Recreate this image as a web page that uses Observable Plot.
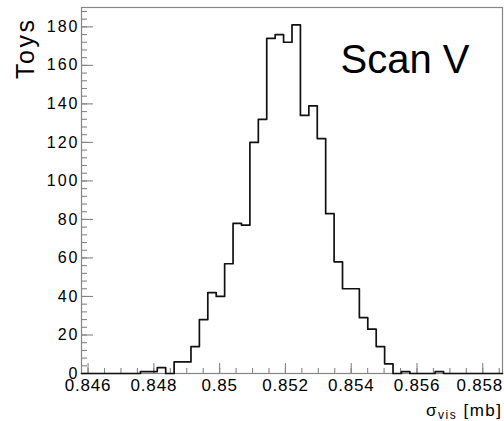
<!DOCTYPE html>
<html>
<head>
<meta charset="utf-8">
<script src="https://cdn.jsdelivr.net/npm/d3@7"></script>
<script src="https://cdn.jsdelivr.net/npm/@observablehq/plot@0.6"></script>
<style>
html, body { margin: 0; padding: 0; background: #fff; }
#chart svg { display: block; }
</style>
</head>
<body>
<div id="chart"></div>
<script>
// Histogram range and bin contents (50 bins)
const binLow = 0.8458;
const binHigh = 0.8586;
const toyCounts = [0,0,0,0,0,0,0,1,1,3,0,6,6,14,28,42,40,57,78,77,120,132,174,176,172,181,134,139,122,83,58,44,44,29,23,14,5,0,1,0,0,0,1,0,0,0,0,0,0,0];
const yTop = 190.05;

// Axis ticks and labels
const xTickValues = [0.846, 0.848, 0.850, 0.852, 0.854, 0.856, 0.858];
const xTickLabels = ["0.846", "0.848", "0.85", "0.852", "0.854", "0.856", "0.858"];
const xMinorStep = 0.0005;
const yTickValues = [0, 20, 40, 60, 80, 100, 120, 140, 160, 180];
const yTickLabels = ["0", "20", "40", "60", "80", "100", "120", "140", "160", "180"];
const yMinorStep = 4;

// Texts
const yTitle = "Toys";
const panelLabel = "Scan V";
const xTitle = "σvis [mb]";

const nb = toyCounts.length;
const bw = (binHigh - binLow) / nb;
const steps = toyCounts.map((c, i) => ({x: binLow + i * bw, y: c}));
steps.push({x: binHigh, y: toyCounts[nb - 1]});

const xMinor = d3.range(0, 26).map(k => xTickValues[0] + k * xMinorStep).filter(v => v <= binHigh);
const yMinor = d3.range(0, 48).map(k => k * yMinorStep).filter(v => v <= yTop);

const axisColor = "#858585";
const font = "'Liberation Sans', Arial, Helvetica, sans-serif";

const plot = Plot.plot({
  width: 504,
  height: 421,
  marginLeft: 81,
  marginRight: 2,
  marginTop: 7,
  marginBottom: 48,
  style: {fontFamily: font, background: "#fff", color: "#000", overflow: "visible"},
  x: {domain: [binLow, binHigh], label: null},
  y: {domain: [0, yTop], label: null},
  marks: [
    Plot.frame({stroke: axisColor, strokeWidth: 1.2}),
    // minor / major ticks (inward)
    Plot.axisY(yMinor, {tickSize: -6, fill: "none", stroke: axisColor, strokeWidth: 1.1, label: null}),
    Plot.axisY(yTickValues, {tickSize: -12, fill: "none", stroke: axisColor, strokeWidth: 1.1, label: null}),
    Plot.axisX(xMinor, {tickSize: -5, fill: "none", stroke: axisColor, strokeWidth: 1.1, label: null}),
    Plot.axisX(xTickValues, {tickSize: -10, fill: "none", stroke: axisColor, strokeWidth: 1.1, label: null}),
    // tick labels
    Plot.axisY(yTickValues, {
      tickSize: 0, tickPadding: 2, fontSize: 16, fill: "#000", label: null,
      tickFormat: d => yTickLabels[yTickValues.indexOf(d)]
    }),
    Plot.axisX(xTickValues, {
      tickSize: 0, tickPadding: 5, fontSize: 17, fill: "#000", label: null,
      tickFormat: d => xTickLabels[xTickValues.indexOf(d)]
    }),
    // histogram outline
    Plot.line(steps, {x: "x", y: "y", curve: "step-after", stroke: "#111", strokeWidth: 1.7}),
    // titles
    Plot.text([yTitle], {frameAnchor: "top-left", dx: -48, dy: 10, rotate: -90, textAnchor: "end", lineAnchor: "bottom", fontSize: 25, fill: "#000"}),
    Plot.text([panelLabel], {frameAnchor: "top-left", dx: 259, dy: 65, textAnchor: "start", lineAnchor: "bottom", fontSize: 40, fill: "#000"}),
    Plot.text([xTitle], {frameAnchor: "bottom-right", dy: 42, textAnchor: "end", lineAnchor: "bottom", fontSize: 17, fill: "#000"})
  ]
});

document.getElementById("chart").appendChild(plot);

const svg = d3.select(plot);
svg.selectAll("g[aria-label^='y-axis tick label']").attr("letter-spacing", "2px");
svg.selectAll("g[aria-label^='x-axis tick label']").attr("letter-spacing", "0.8px");
svg.selectAll("text").each(function() {
  const t = d3.select(this);
  const s = this.textContent;
  if (s === yTitle) t.attr("letter-spacing", "2.5px");
  if (s === xTickLabels[xTickLabels.length - 1]) t.attr("dx", -3);
  if (s === xTitle) {
    t.text(null).attr("letter-spacing", "1.5px");
    t.append("tspan").text("σ");
    t.append("tspan").attr("font-size", 12).attr("dy", 3).text("vis");
    t.append("tspan").attr("dy", -3).text(" [mb]");
  }
});
</script>
</body>
</html>
